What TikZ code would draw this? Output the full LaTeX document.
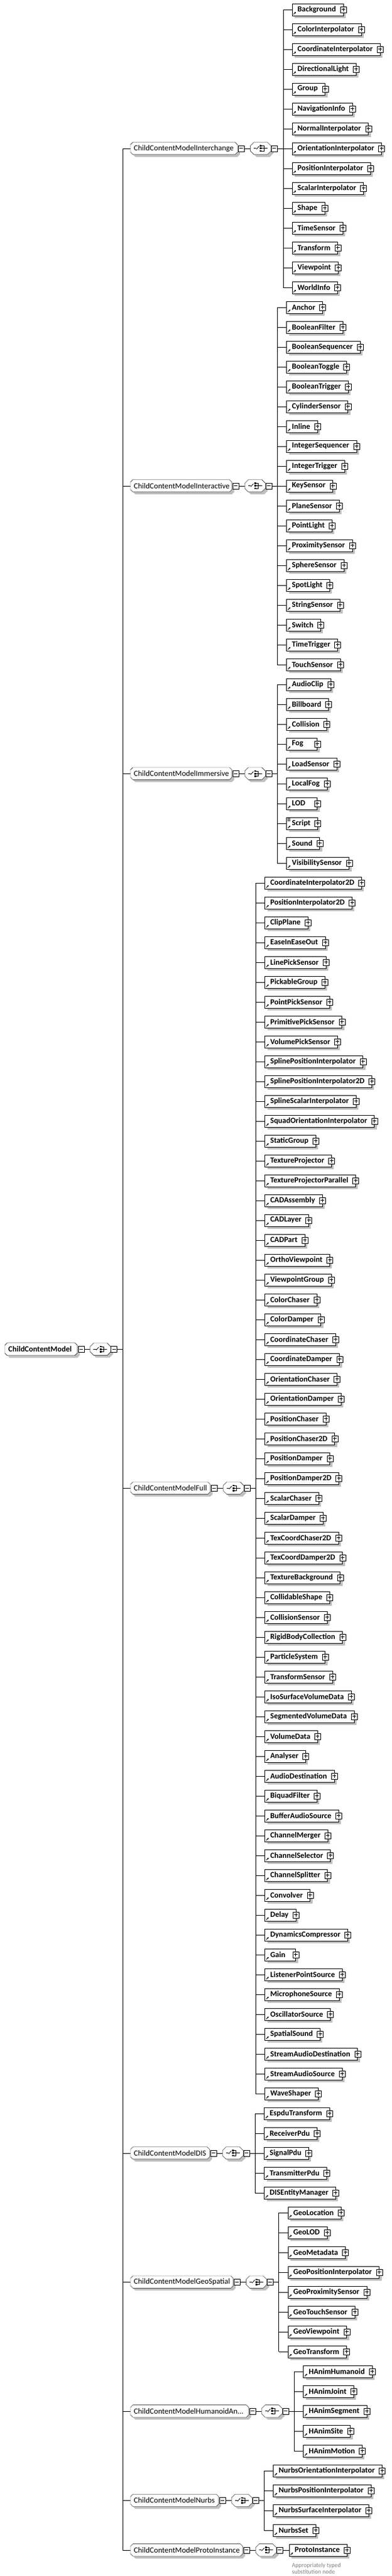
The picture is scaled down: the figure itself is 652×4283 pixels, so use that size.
\documentclass[tikz,border=0pt]{standalone}
\usepackage{fontspec}
\setmainfont{Carlito}
\usetikzlibrary{shadows,arrows.meta}
\pgfdeclarelayer{bg}
\pgfsetlayers{bg,main}
\newlength\tmpw
\newcommand\padtext[1]{\settowidth\tmpw{#1}\ifdim\tmpw<30pt\tmpw=30pt\fi\hspace*{9pt}\makebox[\tmpw][l]{#1}\hspace*{12pt}}
% octagon around a node: #1 node, #2 dx, #3 dy, #4 chamfer
\newcommand\octpath[4]{([xshift=#2+#4,yshift=#3]#1.north west) -- ([xshift=#2-#4,yshift=#3]#1.north east) -- ([xshift=#2,yshift=#3-#4]#1.north east) -- ([xshift=#2,yshift=#3+#4]#1.south east) -- ([xshift=#2-#4,yshift=#3]#1.south east) -- ([xshift=#2+#4,yshift=#3]#1.south west) -- ([xshift=#2,yshift=#3+#4]#1.south west) -- ([xshift=#2,yshift=#3-#4]#1.north west) -- cycle}
\tikzset{
  elembox/.style={draw, fill=white, inner sep=0pt, minimum height=20pt,
    font=\fontsize{13}{15}\selectfont\bfseries,
    drop shadow={shadow xshift=4pt, shadow yshift=-4pt, fill=black!25, opacity=1}},
  grpnode/.style={inner sep=0pt, minimum height=20pt, font=\fontsize{13}{15}\selectfont},
  compnode/.style={inner sep=0pt, minimum width=34pt, minimum height=20pt},
  plusbox/.style={draw, fill=white, inner sep=0pt, minimum size=10pt,
    path picture={\draw[line width=.8pt] ([xshift=2pt]path picture bounding box.west) -- ([xshift=-2pt]path picture bounding box.east);
      \draw[line width=.8pt] ([yshift=-2pt]path picture bounding box.north) -- ([yshift=2pt]path picture bounding box.south);}},
  minusbox/.style={draw, fill=white, inner sep=0pt, minimum size=10pt,
    path picture={\draw[line width=.8pt] ([xshift=2pt]path picture bounding box.west) -- ([xshift=-2pt]path picture bounding box.east);}},
  refarrow/.style={-{Stealth[length=3pt,width=3pt]}, line width=.9pt},
  notetext/.style={font=\fontsize{10}{11}\selectfont, text=black!50, align=left, inner sep=0pt}
}
\newcommand\compsym[1]{%
  \begin{scope}[shift={(#1.west)}, line width=.8pt]
    \draw (5.5,0) -- (10,0);
    \draw (10,1.5) -- (14.5,-3.5);
    \fill (15.8,-5.6) rectangle (18.6,-2.8);
    \fill (15.8,-1.4) rectangle (18.6,1.4);
    \fill (15.8,2.8) rectangle (18.6,5.6);
    \draw (18.6,-4.2) -- (22.5,-4.2) -- (22.5,4.2) -- (18.6,4.2);
    \draw (18.6,0) -- (28.5,0);
  \end{scope}}
\newcommand\compchain[1]{%
  \node[minusbox, anchor=west] (#1-m1) at ([xshift=1pt]#1.east) {};
  \node[compnode, anchor=west] (#1-c) at ([xshift=10pt]#1-m1.east) {};
  \begin{pgfonlayer}{bg}
    \fill[black!25] \octpath{#1-c}{4pt}{-4pt}{6pt};
    \draw[fill=white] \octpath{#1-c}{0pt}{0pt}{6pt};
  \end{pgfonlayer}
  \compsym{#1-c}
  \node[minusbox, anchor=west] (#1-m2) at (#1-c.east) {};
  \draw (#1-m1) -- (#1-c);
  \coordinate (#1-bus) at ([xshift=9.5pt]#1-m2.east);}
\newcommand\octshape[1]{%
  \begin{pgfonlayer}{bg}
    \fill[black!25] \octpath{#1}{4pt}{-4pt}{4pt};
    \draw[fill=white] \octpath{#1}{0pt}{0pt}{4pt};
  \end{pgfonlayer}}
% element: #1 name, #2 x-coordinate name, #3 y
\newcommand\elem[3]{%
  \path (#2 |- 0,#3) ++(15,0) node[elembox, anchor=west] (#1) {\padtext{#1}};
  \node[plusbox] at (#1.east) {};
  \draw[refarrow] ([xshift=2.5pt,yshift=2pt]#1.south west) -- ++(4pt,4pt);}
% group: #1 id, #2 right edge, #3 label, #4 first index, #5 count, #6 children
\newcommand\grp[6]{%
  \pgfmathsetmacro\gy{15.7+33*(#4+(#5-1)/2)}%
  \node[grpnode, anchor=west] (#1) at (217,\gy) {\makebox[\dimexpr#2pt-217pt\relax][l]{\hspace*{5.5pt}#3}};
  \octshape{#1}
  \draw (mainbus |- #1.west) -- (#1.west);
  \compchain{#1}
  \pgfmathsetmacro\yf{15.7+33*#4}%
  \pgfmathsetmacro\yl{15.7+33*(#4+#5-1)}%
  \draw (#1-m2) -- (#1-bus);
  \draw (#1-bus |- 0,\yf) -- (#1-bus |- 0,\yl);
  \foreach \t [count=\i from #4] in {#6} {
    \pgfmathsetmacro\yy{15.7+33*\i}
    \elem{\t}{#1-bus}{\yy}
    \draw (#1-bus |- \t.west) -- (\t.west);
  }}
\begin{document}
\begin{tikzpicture}[x=1pt, y=-1pt, line width=1pt]
\useasboundingbox (0,0) rectangle (652,4283);
% root
\node[grpnode, font=\fontsize{13}{15}\selectfont\bfseries, anchor=west] (root) at (8,2243.2) {\makebox[119.5pt][l]{\hspace*{5.5pt}ChildContentModel}};
\octshape{root}
\compchain{root}
\coordinate (mainbus) at (root-bus);
\draw (root-m2) -- (mainbus);
\draw (mainbus |- 0,246.7) -- (mainbus |- 0,4239.7);

\grp{gX}{394.6}{ChildContentModelInterchange}{0}{15}{Background,ColorInterpolator,CoordinateInterpolator,DirectionalLight,Group,NavigationInfo,NormalInterpolator,OrientationInterpolator,PositionInterpolator,ScalarInterpolator,Shape,TimeSensor,Transform,Viewpoint,WorldInfo}

\grp{gI}{385.3}{ChildContentModelInteractive}{15}{19}{Anchor,BooleanFilter,BooleanSequencer,BooleanToggle,BooleanTrigger,CylinderSensor,Inline,IntegerSequencer,IntegerTrigger,KeySensor,PlaneSensor,PointLight,ProximitySensor,SphereSensor,SpotLight,StringSensor,Switch,TimeTrigger,TouchSensor}

\grp{gM}{385.3}{ChildContentModelImmersive}{34}{10}{AudioClip,Billboard,Collision,Fog,LoadSensor,LocalFog,LOD,Script,Sound,VisibilitySensor}

\grp{gF}{349.3}{ChildContentModelFull}{44}{62}{CoordinateInterpolator2D,PositionInterpolator2D,ClipPlane,EaseInEaseOut,LinePickSensor,PickableGroup,PointPickSensor,PrimitivePickSensor,VolumePickSensor,SplinePositionInterpolator,SplinePositionInterpolator2D,SplineScalarInterpolator,SquadOrientationInterpolator,StaticGroup,TextureProjector,TextureProjectorParallel,CADAssembly,CADLayer,CADPart,OrthoViewpoint,ViewpointGroup,ColorChaser,ColorDamper,CoordinateChaser,CoordinateDamper,OrientationChaser,OrientationDamper,PositionChaser,PositionChaser2D,PositionDamper,PositionDamper2D,ScalarChaser,ScalarDamper,TexCoordChaser2D,TexCoordDamper2D,TextureBackground,CollidableShape,CollisionSensor,RigidBodyCollection,ParticleSystem,TransformSensor,IsoSurfaceVolumeData,SegmentedVolumeData,VolumeData,Analyser,AudioDestination,BiquadFilter,BufferAudioSource,ChannelMerger,ChannelSelector,ChannelSplitter,Convolver,Delay,DynamicsCompressor,Gain,ListenerPointSource,MicrophoneSource,OscillatorSource,SpatialSound,StreamAudioDestination,StreamAudioSource,WaveShaper}

\grp{gD}{348.3}{ChildContentModelDIS}{106}{5}{EspduTransform,ReceiverPdu,SignalPdu,TransmitterPdu,DISEntityManager}

\grp{gG}{387.5}{ChildContentModelGeoSpatial}{111}{8}{GeoLocation,GeoLOD,GeoMetadata,GeoPositionInterpolator,GeoProximitySensor,GeoTouchSensor,GeoViewpoint,GeoTransform}

\grp{gH}{413.3}{ChildContentModelHumanoidAn...}{119}{5}{HAnimHumanoid,HAnimJoint,HAnimSegment,HAnimSite,HAnimMotion}

\grp{gN}{363.3}{ChildContentModelNurbs}{124}{4}{NurbsOrientationInterpolator,NurbsPositionInterpolator,NurbsSurfaceInterpolator,NurbsSet}

% proto instance group (single child)
\node[grpnode, anchor=west] (gP) at (217,4239.7) {\makebox[186.3pt][l]{\hspace*{5.5pt}ChildContentModelProtoInstance}};
\octshape{gP}
\draw (mainbus |- gP.west) -- (gP.west);
\compchain{gP}
\node[elembox, anchor=west] (ProtoInstance) at ([xshift=11pt]gP-m2.east) {\padtext{ProtoInstance}};
\node[plusbox] at (ProtoInstance.east) {};
\draw[refarrow] ([xshift=2.5pt,yshift=2pt]ProtoInstance.south west) -- ++(4pt,4pt);
\draw (gP-m2) -- (ProtoInstance);
\node[notetext, anchor=north west] (note) at ([xshift=4.5pt,yshift=-11pt]ProtoInstance.south west) {Appropriately typed\\substitution node};

% Script has an extra mixed-content mark
\foreach \d in {2,4,6} \draw[line width=.6pt] ([xshift=2pt,yshift=-\d pt]Script.north west) -- ++(5pt,0pt);
\end{tikzpicture}
\end{document}
